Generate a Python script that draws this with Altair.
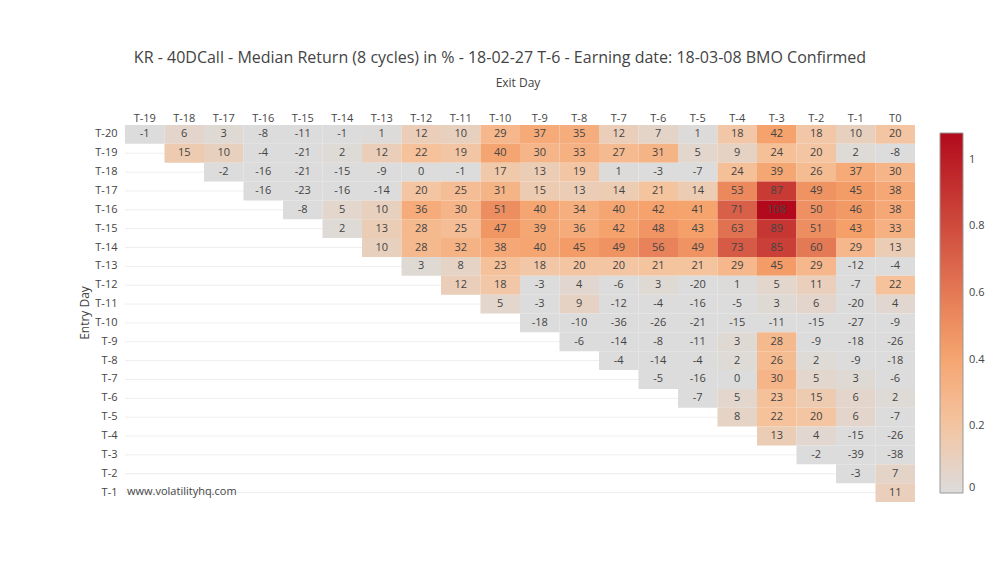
import altair as alt
import pandas as pd

entry_days = ["T-20", "T-19", "T-18", "T-17", "T-16", "T-15", "T-14", "T-13", "T-12", "T-11",
              "T-10", "T-9", "T-8", "T-7", "T-6", "T-5", "T-4", "T-3", "T-2", "T-1"]
exit_days = ["T-19", "T-18", "T-17", "T-16", "T-15", "T-14", "T-13", "T-12", "T-11", "T-10",
             "T-9", "T-8", "T-7", "T-6", "T-5", "T-4", "T-3", "T-2", "T-1", "T0"]

# each row starts at the exit day right after its entry day and runs to T0
r_T20 = [-1, 6, 3, -8, -11, -1, 1, 12, 10, 29, 37, 35, 12, 7, 1, 18, 42, 18, 10, 20]
r_T19 = [15, 10, -4, -21, 2, 12, 22, 19, 40, 30, 33, 27, 31, 5, 9, 24, 20, 2, -8]
r_T18 = [-2, -16, -21, -15, -9, 0, -1, 17, 13, 19, 1, -3, -7, 24, 39, 26, 37, 30]
r_T17 = [-16, -23, -16, -14, 20, 25, 31, 15, 13, 14, 21, 14, 53, 87, 49, 45, 38]
r_T16 = [-8, 5, 10, 36, 30, 51, 40, 34, 40, 42, 41, 71, 108, 50, 46, 38]
r_T15 = [2, 13, 28, 25, 47, 39, 36, 42, 48, 43, 63, 89, 51, 43, 33]
r_T14 = [10, 28, 32, 38, 40, 45, 49, 56, 49, 73, 85, 60, 29, 13]
r_T13 = [3, 8, 23, 18, 20, 20, 21, 21, 29, 45, 29, -12, -4]
r_T12 = [12, 18, -3, 4, -6, 3, -20, 1, 5, 11, -7, 22]
r_T11 = [5, -3, 9, -12, -4, -16, -5, 3, 6, -20, 4]
r_T10 = [-18, -10, -36, -26, -21, -15, -11, -15, -27, -9]
r_T9 = [-6, -14, -8, -11, 3, 28, -9, -18, -26]
r_T8 = [-4, -14, -4, 2, 26, 2, -9, -18]
r_T7 = [-5, -16, 0, 30, 5, 3, -6]
r_T6 = [-7, 5, 23, 15, 6, 2]
r_T5 = [8, 22, 20, 6, -7]
r_T4 = [13, 4, -15, -26]
r_T3 = [-2, -39, -38]
r_T2 = [-3, 7]
r_T1 = [11]

rows = [r_T20, r_T19, r_T18, r_T17, r_T16, r_T15, r_T14, r_T13, r_T12, r_T11,
        r_T10, r_T9, r_T8, r_T7, r_T6, r_T5, r_T4, r_T3, r_T2, r_T1]

recs = []
for i, (ent, vals) in enumerate(zip(entry_days, rows)):
    for j, v in enumerate(vals):
        recs.append({"entry": ent, "exit": exit_days[i + j], "ret": v,
                     "label": str(v), "frac": v / 100.0})
df = pd.DataFrame(recs)

FONT = "Open Sans"
TXT = "#444444"

color_domain = [0, 0.216, 0.432, 1.08]
color_range = ["#dcdcdc", "#f5c39d", "#f5a069", "#b20a1c"]

xscale = alt.Scale(domain=exit_days, paddingInner=0, paddingOuter=0)
yscale = alt.Scale(domain=entry_days, paddingInner=0, paddingOuter=0)

xaxis = alt.Axis(orient="top", title=None, ticks=False, domain=False, grid=False, labelAngle=0,
                 labelFontSize=11, labelColor=TXT, labelFont=FONT, labelPadding=2)
yaxis = alt.Axis(orient="left", title=None, ticks=False, domain=False, grid=False,
                 labelFontSize=11, labelColor=TXT, labelFont=FONT, labelPadding=8)

X = alt.X("exit:N", sort=exit_days, scale=xscale, axis=xaxis)
Y = alt.Y("entry:N", sort=entry_days, scale=yscale, axis=yaxis)

grid = alt.Chart(pd.DataFrame({"entry": entry_days})).mark_rule(
    color="#eeeeee", strokeWidth=1
).encode(y=Y, x=alt.value(0), x2=alt.value(790))

base = alt.Chart(df)

cells = base.mark_rect().encode(
    x=X, y=Y,
    color=alt.Color("frac:Q",
                    scale=alt.Scale(domain=color_domain, range=color_range, clamp=True, interpolate="rgb"),
                    legend=alt.Legend(title=None, orient="none", legendX=815, legendY=8,
                                      gradientLength=360, gradientThickness=23,
                                      gradientStrokeColor="#999999", gradientStrokeWidth=1,
                                      values=[0, 0.2, 0.4, 0.6, 0.8, 1], format=".1~f",
                                      labelFontSize=11, labelColor=TXT, labelFont=FONT,
                                      labelOffset=6, direction="vertical")),
)

labels = base.mark_text(fontSize=11, font=FONT, color=TXT).encode(
    x=X, y=Y, text=alt.Text("label:N"),
)

def note(txt, x, y, size, angle=0, align="center"):
    return alt.Chart(pd.DataFrame({"t": [txt]})).mark_text(
        fontSize=size, font=FONT, color=TXT, angle=angle, align=align, baseline="middle"
    ).encode(x=alt.value(x), y=alt.value(y), text="t:N")

title = note("KR - 40DCall - Median Return (8 cycles) in % - 18-02-27 T-6 - Earning date: 18-03-08 BMO Confirmed",
             375, -67, 16)
xtitle = note("Exit Day", 393, -42, 12)
ytitle = note("Entry Day", -40, 188, 12, angle=270)
water = note("www.volatilityhq.com", 2, 367, 11, align="left")

chart = alt.layer(grid, cells, labels, title, xtitle, ytitle, water).properties(
    width=790, height=377,
    autosize=alt.AutoSizeParams(type="none"),
    padding={"left": 117, "top": 117, "right": 77, "bottom": 74},
    background="white",
).configure_view(strokeWidth=0, stroke="transparent")

chart.save("out.html", embed_options={"renderer": "svg", "actions": False})
